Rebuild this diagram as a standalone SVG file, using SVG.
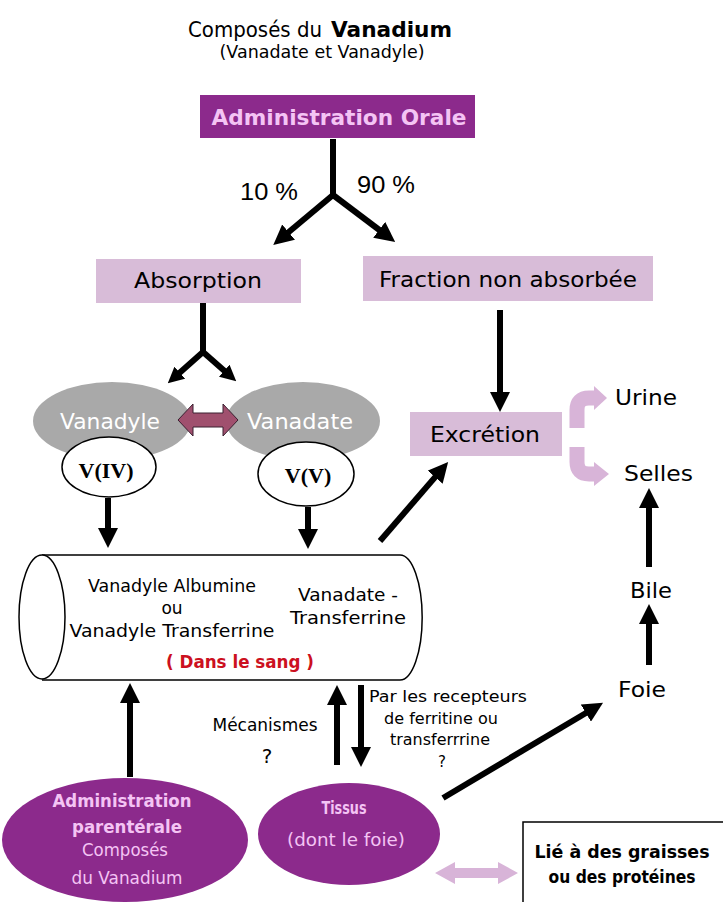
<svg xmlns="http://www.w3.org/2000/svg" width="723" height="902" viewBox="0 0 723 902">
<style>
.c{font-family:"DejaVu Sans","Noto Sans",sans-serif}
.b{font-weight:bold}
.m{text-anchor:middle}
.ar{stroke:#000;stroke-width:6;fill:none}
.pk{fill:#d8bcd8}
.pu{fill:#8c2a8c}
.pt{fill:#f4c4f4}
.gr{fill:#a9a9a9}
</style>
<defs>
<marker id="ah" markerUnits="userSpaceOnUse" markerWidth="20" markerHeight="20" viewBox="0 0 20 20" refX="6" refY="10" orient="auto">
<path d="M0,0 L20,10 L0,20 z" fill="#000"/>
</marker>
<marker id="ahs" markerUnits="userSpaceOnUse" markerWidth="16" markerHeight="16" viewBox="0 0 16 16" refX="5" refY="8" orient="auto">
<path d="M0,0 L16,8 L0,16 z" fill="#000"/>
</marker>
</defs>
<rect width="723" height="902" fill="#fff"/>

<g id="title">
<text class="c" x="188" y="37" font-size="22" textLength="134" lengthAdjust="spacingAndGlyphs">Composés du</text>
<text class="c b" x="331" y="37" font-size="22" textLength="121" lengthAdjust="spacingAndGlyphs">Vanadium</text>
<text class="c m" x="322" y="58" font-size="17" textLength="205" lengthAdjust="spacingAndGlyphs">(Vanadate et Vanadyle)</text>
</g>

<g id="admin-orale">
<rect class="pu" x="200" y="95" width="275" height="43"/>
<text class="c b m pt" x="339" y="125" font-size="21" textLength="255" lengthAdjust="spacingAndGlyphs">Administration Orale</text>
</g>

<g id="pct">
<text x="269" y="200" font-family="Liberation Sans, Arial, sans-serif" font-size="24" text-anchor="middle" textLength="58" lengthAdjust="spacingAndGlyphs">10 %</text>
<text x="386" y="193" font-family="Liberation Sans, Arial, sans-serif" font-size="24" text-anchor="middle" textLength="58" lengthAdjust="spacingAndGlyphs">90 %</text>
</g>

<g id="absorption">
<rect class="pk" x="96" y="259" width="205" height="44"/>
<text class="c m" x="198" y="288" font-size="21" textLength="128" lengthAdjust="spacingAndGlyphs">Absorption</text>
</g>

<g id="fraction">
<rect class="pk" x="363" y="256" width="290" height="45"/>
<text class="c m" x="508" y="287" font-size="21" textLength="258" lengthAdjust="spacingAndGlyphs">Fraction non absorbée</text>
</g>

<g id="vanadyle">
<ellipse class="gr" cx="112" cy="421" rx="79" ry="39"/>
<text class="c m" x="110" y="429" font-size="21" fill="#fff" textLength="100" lengthAdjust="spacingAndGlyphs">Vanadyle</text>
</g>
<g id="vanadate">
<ellipse class="gr" cx="303" cy="421" rx="77" ry="39"/>
<text class="c m" x="300" y="429" font-size="21" fill="#fff" textLength="106" lengthAdjust="spacingAndGlyphs">Vanadate</text>
</g>
<g id="viv">
<ellipse cx="109" cy="467" rx="47" ry="30" fill="#fff" stroke="#000" stroke-width="1.5"/>
<text x="106" y="478" font-family="Liberation Serif, Times New Roman, serif" font-weight="bold" font-size="22" text-anchor="middle">V(IV)</text>
</g>
<g id="vv">
<ellipse cx="306" cy="474" rx="48" ry="32" fill="#fff" stroke="#000" stroke-width="1.5"/>
<text x="308" y="483" font-family="Liberation Serif, Times New Roman, serif" font-weight="bold" font-size="22" text-anchor="middle">V(V)</text>
</g>

<g id="excretion">
<rect class="pk" x="410" y="412" width="152" height="44"/>
<text class="c m" x="485" y="442" font-size="21" textLength="110" lengthAdjust="spacingAndGlyphs">Excrétion</text>
</g>
<g id="urine"><text class="c" x="615" y="405" font-size="21" textLength="62" lengthAdjust="spacingAndGlyphs">Urine</text></g>
<g id="selles"><text class="c" x="624" y="481" font-size="21" textLength="69" lengthAdjust="spacingAndGlyphs">Selles</text></g>
<g id="bile"><text class="c" x="630" y="598" font-size="21" textLength="42" lengthAdjust="spacingAndGlyphs">Bile</text></g>
<g id="foie"><text class="c" x="618" y="697" font-size="21" textLength="48" lengthAdjust="spacingAndGlyphs">Foie</text></g>

<g id="sang">
<path d="M42,555 H400 A22,62 0 0 1 400,680 H42" fill="#fff" stroke="#000" stroke-width="1.5"/>
<ellipse cx="42" cy="617" rx="23" ry="62" fill="#fff" stroke="#000" stroke-width="1.5"/>
<text class="c m" x="172" y="592" font-size="17" textLength="168" lengthAdjust="spacingAndGlyphs">Vanadyle Albumine</text>
<text class="c m" x="172" y="614" font-size="17">ou</text>
<text class="c m" x="172" y="637" font-size="17" textLength="205" lengthAdjust="spacingAndGlyphs">Vanadyle Transferrine</text>
<text class="c m" x="348" y="601" font-size="17" textLength="100" lengthAdjust="spacingAndGlyphs">Vanadate -</text>
<text class="c m" x="348" y="624" font-size="17" textLength="116" lengthAdjust="spacingAndGlyphs">Transferrine</text>
<text class="c b m" x="240" y="668" font-size="18" fill="#cc1020" textLength="148" lengthAdjust="spacingAndGlyphs">( Dans le sang )</text>
</g>

<g id="labels-mid">
<text class="c m" x="265" y="731" font-size="17" textLength="105" lengthAdjust="spacingAndGlyphs">Mécanismes</text>
<text class="c m" x="267" y="763" font-size="20">?</text>
<text class="c m" x="448" y="702" font-size="15" textLength="158" lengthAdjust="spacingAndGlyphs">Par les recepteurs</text>
<text class="c m" x="441" y="724" font-size="15" textLength="114" lengthAdjust="spacingAndGlyphs">de ferritine ou</text>
<text class="c m" x="440" y="745" font-size="15" textLength="100" lengthAdjust="spacingAndGlyphs">transferrrine</text>
<text class="c m" x="442" y="767" font-size="15">?</text>
</g>

<g id="admin-parenterale">
<ellipse class="pu" cx="125" cy="840" rx="123" ry="62"/>
<text class="c b m pt" x="122" y="807" font-size="18" textLength="139" lengthAdjust="spacingAndGlyphs">Administration</text>
<text class="c b m pt" x="127" y="833" font-size="18" textLength="110" lengthAdjust="spacingAndGlyphs">parentérale</text>
<text class="c m pt" x="125" y="856" font-size="18" textLength="86" lengthAdjust="spacingAndGlyphs">Composés</text>
<text class="c m pt" x="127" y="884" font-size="18" textLength="111" lengthAdjust="spacingAndGlyphs">du Vanadium</text>
</g>

<g id="tissus">
<ellipse class="pu" cx="349" cy="834" rx="91" ry="51"/>
<text class="c b m pt" x="344" y="814" font-size="18" textLength="45" lengthAdjust="spacingAndGlyphs">Tissus</text>
<text class="c m pt" x="346" y="846" font-size="18" textLength="118" lengthAdjust="spacingAndGlyphs">(dont le foie)</text>
</g>

<g id="lie">
<rect x="523" y="822" width="215" height="95" fill="#fff" stroke="#000" stroke-width="1.5"/>
<text class="c b m" x="622" y="858" font-size="17.5" textLength="175" lengthAdjust="spacingAndGlyphs">Lié à des graisses</text>
<text class="c b m" x="622" y="883" font-size="17.5" textLength="147" lengthAdjust="spacingAndGlyphs">ou des protéines</text>
</g>

<g id="connectors">
<path class="ar" d="M333,139 V196"/>
<path class="ar" d="M333,195 L284,236" marker-end="url(#ah)"/>
<path class="ar" d="M333,195 L384,233.5" marker-end="url(#ah)"/>
<path class="ar" d="M203,303 V353" stroke-width="4"/>
<path class="ar" d="M203,352 L176,376" stroke-width="4" marker-end="url(#ahs)"/>
<path class="ar" d="M203,352 L228,374" stroke-width="4" marker-end="url(#ahs)"/>
<path class="ar" d="M500,310 V398" marker-end="url(#ah)"/>
<path class="ar" d="M108,498 V534" marker-end="url(#ah)"/>
<path class="ar" d="M308,507 V535" marker-end="url(#ah)"/>
<path class="ar" d="M380,541 L439,472.6" marker-end="url(#ah)"/>
<path class="ar" d="M649,567 V502" marker-end="url(#ah)"/>
<path class="ar" d="M649,665 V618" marker-end="url(#ah)"/>
<path class="ar" d="M443,798 L591,710" marker-end="url(#ah)"/>
<path class="ar" d="M337,765 V699" marker-end="url(#ah)"/>
<path class="ar" d="M361,685 V753" marker-end="url(#ah)"/>
<path class="ar" d="M130,777 V697" marker-end="url(#ah)"/>
<polygon points="178,420 193,404 193,413 223,413 223,404 238,420 223,436 223,427 193,427 193,436" fill="#a0506e" stroke="#3a2030" stroke-width="1"/>
<path d="M577,428 V410 Q577,398 589,398 H596" fill="none" stroke="#d8b4d8" stroke-width="15"/>
<polygon points="594,386 607,398 594,410" fill="#d8b4d8"/>
<path d="M577,447 V462 Q577,474 589,474 H596" fill="none" stroke="#d8b4d8" stroke-width="15"/>
<polygon points="594,462 609,474 594,486" fill="#d8b4d8"/>
<polygon points="435,873 455,862 455,868 498,868 498,862 518,873 498,884 498,878 455,878 455,884" fill="#d8b4d8"/>
</g>
</svg>
